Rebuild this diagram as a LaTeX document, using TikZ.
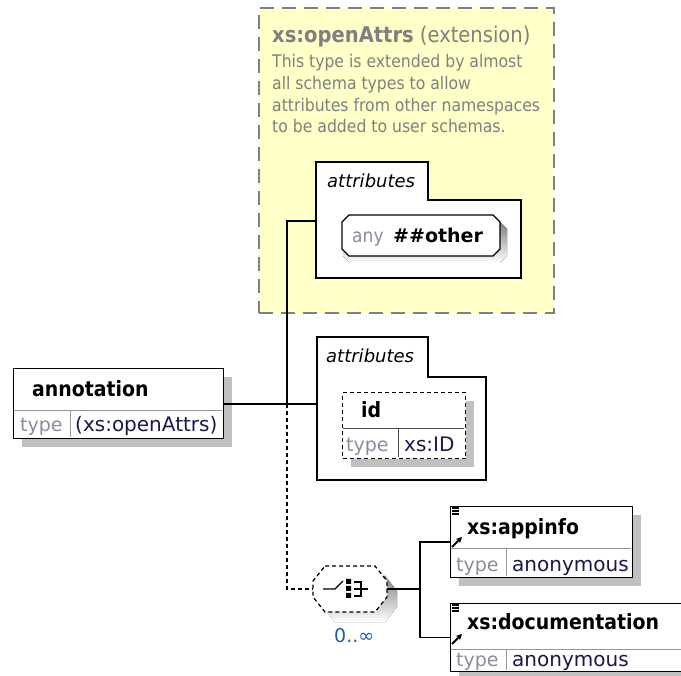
\documentclass[tikz,border=0pt]{standalone}
\usepackage{fontspec}
\setmainfont{DejaVu Sans Condensed}
\newfontfamily\widefont{DejaVu Sans}
\usetikzlibrary{calc,shadows,arrows.meta}

\definecolor{noteyellow}{RGB}{255,255,200}
\definecolor{notegray}{RGB}{128,128,128}
\definecolor{shade}{RGB}{192,192,192}
\definecolor{typegray}{RGB}{140,140,160}
\definecolor{valnavy}{RGB}{25,25,75}
\definecolor{rowline}{RGB}{150,150,150}
\definecolor{multblue}{RGB}{30,90,170}

\tikzset{
  elembox/.style={draw=black, fill=white, line width=1.4pt, inner sep=0pt,
    anchor=north west,
    drop shadow={shadow xshift=8pt, shadow yshift=-8pt, fill=shade, opacity=1}},
  optbox/.style={elembox, dash pattern=on 4pt off 3pt},
  folder/.style={draw=black, fill=white, line width=1.4pt},
  txt/.style={anchor=base west, inner sep=0pt},
  namefont/.style={txt, font=\fontsize{21}{25}\selectfont\bfseries},
  typefont/.style={txt, text=typegray, font=\widefont\fontsize{19}{23}\selectfont},
  valfont/.style={txt, text=valnavy, font=\widefont\fontsize{20}{24}\selectfont},
  groupfont/.style={txt, font=\widefont\fontsize{18}{22}\selectfont\itshape},
  divider/.style={draw=rowline, line width=1pt},
  wire/.style={draw=black, line width=1.4pt},
  optwire/.style={wire, dash pattern=on 4pt off 3pt},
}

\begin{document}
\begin{tikzpicture}[x=1pt, y=-1pt]
\useasboundingbox (0,0) rectangle (681,676);
\clip (0,0) rectangle (681,676);

% ---- extension note: xs:openAttrs ----
\node[draw=notegray, fill=noteyellow, line width=1.6pt, dash pattern=on 14pt off 8pt,
      anchor=north west, minimum width=295pt, minimum height=305pt] (note) at (258,7) {};
\node[txt, text=notegray, font=\fontsize{21.7}{25}\selectfont] (notetitle) at (272,43)
  {\textbf{xs:openAttrs} (extension)};
\begin{scope}[every node/.style={txt, text=notegray, font=\fontsize{17.4}{21}\selectfont}]
  \node (desc1) at (272,68)  {This type is extended by almost};
  \node (desc2) at (272,90)  {all schema types to allow};
  \node (desc3) at (272,112) {attributes from other namespaces};
  \node (desc4) at (272,133) {to be added to user schemas.};
\end{scope}

% attribute group of the note, folder outline
\path[folder] (316,278) -- (316,162) -- (428,162) -- (428,200) -- (521,200) -- (521,278) -- cycle;
\node[groupfont] (grpA) at (327,188) {attributes};
\coordinate (grpAin) at (316,221);

% any ##other wildcard
\fill[shade] (350,222) -- (500,222) -- (507,229) -- (507,256) -- (500,263) -- (350,263) -- (343,256) -- (343,229) -- cycle;
\path[folder] (349,215) -- (493,215) -- (500,222) -- (500,249) -- (493,256) -- (349,256) -- (342,249) -- (342,222) -- cycle;
\node[txt, text=typegray, font=\fontsize{19}{23}\selectfont] (anykw) at (352,243) {any};
\node[txt, font=\widefont\fontsize{19}{23}\selectfont\bfseries] (anyns) at (393,243) {\#\#other};

% ---- annotation element ----
\node[elembox, minimum width=210pt, minimum height=70pt] (annot) at (13,368) {};
\draw[divider] (14,411) -- (222,411) (70,411) -- (70,437);
\node[namefont] (annotname) at (32,397) {annotation};
\node[typefont] (annottype) at (20,432) {type};
\node[valfont] (annotval) at (75,432) {(xs:openAttrs)};

% ---- own attribute group ----
\path[folder] (317,480) -- (317,337) -- (428,337) -- (428,377) -- (486,377) -- (486,480) -- cycle;
\node[groupfont] (grpB) at (326,363) {attributes};
\coordinate (grpBin) at (317,404);

\node[optbox, minimum width=123pt, minimum height=66pt] (idattr) at (342,392) {};
\draw[divider, draw=black!70] (343,429) -- (464,429) (398,429) -- (398,457);
\node[namefont] (idname) at (361,418) {id};
\node[typefont] (idtype) at (346,452) {type};
\node[valfont] (idval) at (404,452) {xs:ID};

% ---- choice compositor ----
\node[inner sep=0pt, minimum width=74pt, minimum height=46pt] (choice) at (350,589) {};
\fill[shade] (335,576) -- (385,576) -- (397,591) -- (397,607) -- (385,622) -- (335,622) -- (323,607) -- (323,591) -- cycle;
\path[draw=black, fill=white, line width=1.2pt, dash pattern=on 4pt off 3pt]
  (325,566) -- (375,566) -- (387,581) -- (387,597) -- (375,612) -- (325,612) -- (313,597) -- (313,581) -- cycle;
% choice icon
\draw[line width=1.3pt] (323,589) -- (335,589) -- (343,581);
\fill (346,579) rectangle (351,584) (346,586) rectangle (351,591) (346,593) rectangle (351,598);
\draw[line width=1.3pt] (354,582) -- (361,582) -- (361,596) -- (354,596) (354,589) -- (368,589);
\node[txt, text=multblue, font=\widefont\fontsize{19}{23}\selectfont] (mult) at (334,642) {0..∞};

% ---- child elements ----
\node[elembox, minimum width=182pt, minimum height=71pt] (appinfo) at (450,506) {};
\draw[divider] (451,549) -- (631,549) (506,549) -- (506,576);
\node[namefont] (appinfoname) at (467,535) {xs:appinfo};
\node[typefont] (appinfotype) at (456,572) {type};
\node[valfont] (appinfoval) at (512,572) {anonymous};

\node[elembox, minimum width=245pt, minimum height=68pt] (docu) at (450,603) {};
\draw[divider] (451,649) -- (694,649) (506,649) -- (506,670);
\node[namefont] (docuname) at (467,630) {xs:documentation};
\node[typefont] (docutype) at (456,666) {type};
\node[valfont] (docuval) at (512,666) {anonymous};

% global-reference markers
\foreach \b in {0,97}{
  \draw[line width=1.2pt] (452,508+\b) -- (459,508+\b) (452,511+\b) -- (459,511+\b) (452,514+\b) -- (459,514+\b);
  \draw[line width=2pt, -{Stealth[length=6pt,width=6pt]}] (452,547+\b) -- (462,537+\b);
}

% ---- connectors ----
\coordinate (junc) at (287,404);
\path[wire] (annot.east |- junc) -- (junc);
\path[wire] (junc) -- (grpBin);
\path[wire] (junc) |- (grpAin);
\path[optwire] (junc) |- (choice.west);
\coordinate (fork) at (420,589);
\path[wire] (choice.east) -- (fork);
\path[wire] (fork) |- (appinfo.west);
\path[wire] (fork) |- (docu.west);
\end{tikzpicture}
\end{document}
